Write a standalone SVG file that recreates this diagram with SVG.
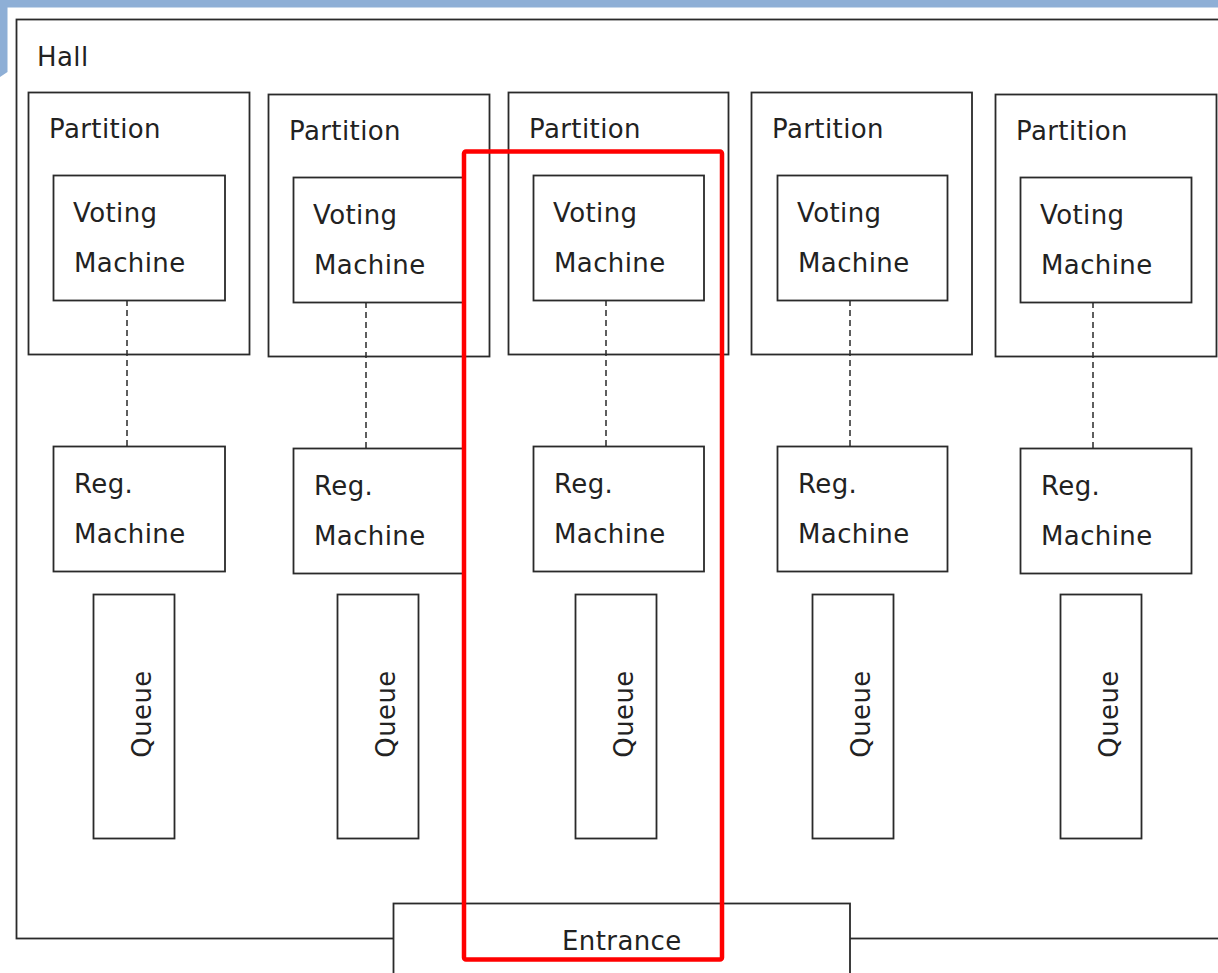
<svg xmlns="http://www.w3.org/2000/svg" width="1218" height="973" viewBox="0 0 1218 973">
<style>
.box{fill:#fff;stroke:#2a2a2a;stroke-width:1.8}
.t{font-family:"DejaVu Sans",sans-serif;font-size:26px;fill:#222;letter-spacing:0.4px}
.q{text-anchor:middle}
.dash{stroke:#2a2a2a;stroke-width:1.5;stroke-dasharray:6 4;fill:none}
</style>
<rect width="1218" height="973" fill="#fff"/>
<g id="background">
<rect x="0" y="0" width="1218" height="7.5" fill="#8eafd6"/>
<polygon points="0,0 7.5,0 7.5,72 0,77" fill="#8eafd6"/>
</g>
<g id="hall">
<rect class="box" x="16.5" y="19.5" width="1220" height="919"/>
<text class="t" x="37" y="66">Hall</text>
</g>
<g id="entrance">
<rect class="box" x="393.5" y="903.5" width="456.5" height="90"/>
<text class="t" x="562" y="950">Entrance</text>
</g>
<g id="partition1">
<rect class="box" x="28.5" y="92.5" width="221" height="262"/>
<text class="t" x="49" y="138">Partition</text>
</g>
<g id="partition2">
<rect class="box" x="268.5" y="94.5" width="221" height="262"/>
<text class="t" x="289" y="140">Partition</text>
</g>
<g id="partition3">
<rect class="box" x="508.5" y="92.5" width="220" height="262"/>
<text class="t" x="529" y="138">Partition</text>
</g>
<g id="partition4">
<rect class="box" x="751.5" y="92.5" width="220.5" height="262"/>
<text class="t" x="772" y="138">Partition</text>
</g>
<g id="partition5">
<rect class="box" x="995.5" y="94.5" width="221" height="262"/>
<text class="t" x="1016" y="140">Partition</text>
</g>
<g id="connectors">
<line class="dash" x1="127" y1="300" x2="127" y2="446"/>
<line class="dash" x1="366" y1="302" x2="366" y2="448"/>
<line class="dash" x1="606" y1="300" x2="606" y2="446"/>
<line class="dash" x1="850" y1="300" x2="850" y2="446"/>
<line class="dash" x1="1093" y1="302" x2="1093" y2="448"/>
</g>
<g id="voting1">
<rect class="box" x="53.5" y="175.5" width="171.5" height="125"/>
<text class="t" x="73" y="222">Voting</text>
<text class="t" x="74" y="272">Machine</text>
</g>
<g id="voting2">
<rect class="box" x="293.5" y="177.5" width="171" height="125"/>
<text class="t" x="313" y="224">Voting</text>
<text class="t" x="314" y="274">Machine</text>
</g>
<g id="voting3">
<rect class="box" x="533.5" y="175.5" width="170.5" height="125"/>
<text class="t" x="553" y="222">Voting</text>
<text class="t" x="554" y="272">Machine</text>
</g>
<g id="voting4">
<rect class="box" x="777.5" y="175.5" width="170" height="125"/>
<text class="t" x="797" y="222">Voting</text>
<text class="t" x="798" y="272">Machine</text>
</g>
<g id="voting5">
<rect class="box" x="1020.5" y="177.5" width="171" height="125"/>
<text class="t" x="1040" y="224">Voting</text>
<text class="t" x="1041" y="274">Machine</text>
</g>
<g id="reg1">
<rect class="box" x="53.5" y="446.5" width="171.5" height="125"/>
<text class="t" x="74" y="493">Reg.</text>
<text class="t" x="74" y="543">Machine</text>
</g>
<g id="reg2">
<rect class="box" x="293.5" y="448.5" width="171" height="125"/>
<text class="t" x="314" y="495">Reg.</text>
<text class="t" x="314" y="545">Machine</text>
</g>
<g id="reg3">
<rect class="box" x="533.5" y="446.5" width="170.5" height="125"/>
<text class="t" x="554" y="493">Reg.</text>
<text class="t" x="554" y="543">Machine</text>
</g>
<g id="reg4">
<rect class="box" x="777.5" y="446.5" width="170" height="125"/>
<text class="t" x="798" y="493">Reg.</text>
<text class="t" x="798" y="543">Machine</text>
</g>
<g id="reg5">
<rect class="box" x="1020.5" y="448.5" width="171" height="125"/>
<text class="t" x="1041" y="495">Reg.</text>
<text class="t" x="1041" y="545">Machine</text>
</g>
<g id="queue1">
<rect class="box" x="93.5" y="594.5" width="81" height="244"/>
<text class="t q" transform="translate(151 714) rotate(-90)">Queue</text>
</g>
<g id="queue2">
<rect class="box" x="337.5" y="594.5" width="81" height="244"/>
<text class="t q" transform="translate(395 714) rotate(-90)">Queue</text>
</g>
<g id="queue3">
<rect class="box" x="575.5" y="594.5" width="81" height="244"/>
<text class="t q" transform="translate(633 714) rotate(-90)">Queue</text>
</g>
<g id="queue4">
<rect class="box" x="812.5" y="594.5" width="81" height="244"/>
<text class="t q" transform="translate(870 714) rotate(-90)">Queue</text>
</g>
<g id="queue5">
<rect class="box" x="1060.5" y="594.5" width="81" height="244"/>
<text class="t q" transform="translate(1118 714) rotate(-90)">Queue</text>
</g>
<g id="highlight">
<rect x="464" y="151.5" width="258" height="808" rx="2" fill="none" stroke="#ff0000" stroke-width="4.5"/>
</g>
</svg>
